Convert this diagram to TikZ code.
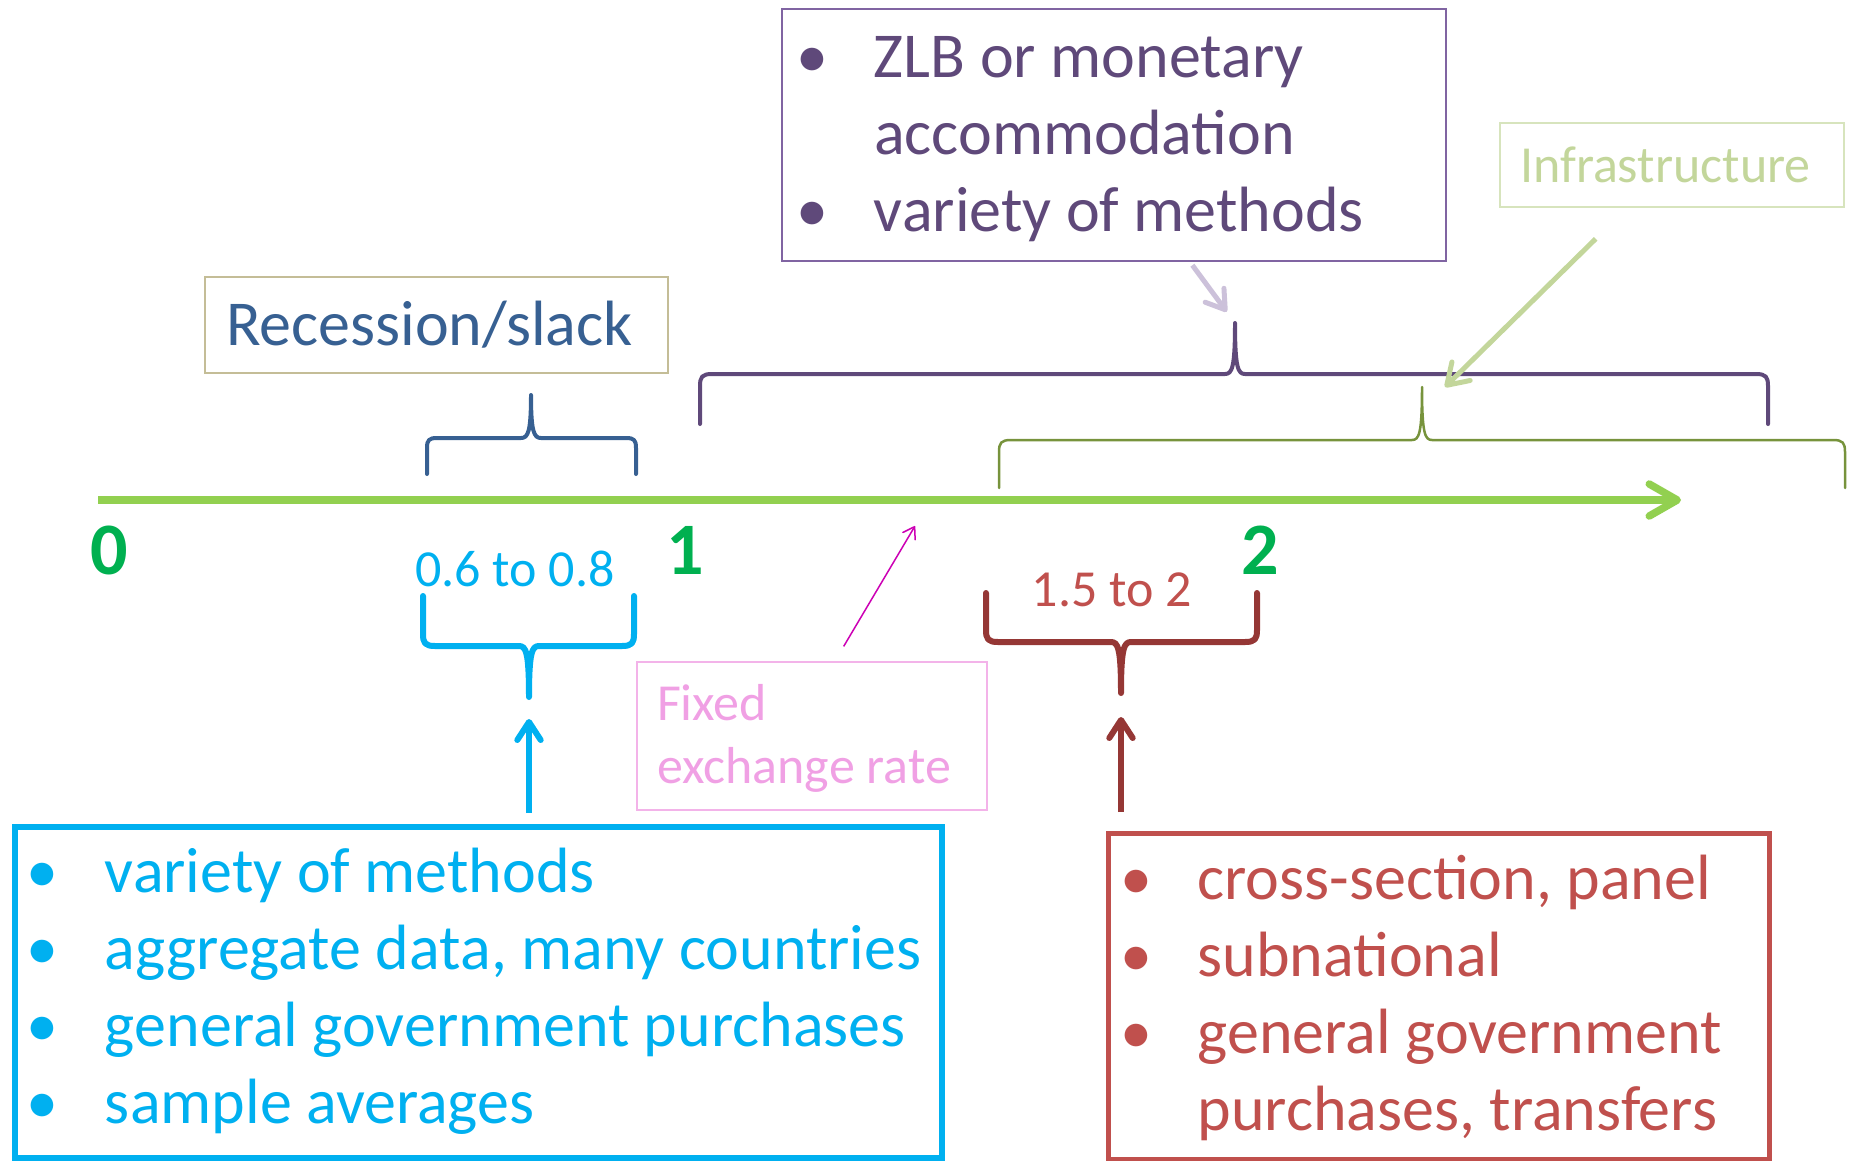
\documentclass[tikz,border=0pt]{standalone}
\usepackage{fontspec}
\setmainfont{Carlito}
\usetikzlibrary{arrows.meta,positioning}

\definecolor{axisgreen}{RGB}{146,208,80}
\definecolor{numgreen}{RGB}{0,176,80}
\definecolor{recblue}{RGB}{55,96,146}
\definecolor{recborder}{RGB}{196,189,151}
\definecolor{cyanc}{RGB}{0,176,240}
\definecolor{zlbtext}{RGB}{95,73,122}
\definecolor{zlbborder}{RGB}{128,100,162}
\definecolor{lilac}{RGB}{204,193,218}
\definecolor{infgreen}{RGB}{195,214,155}
\definecolor{infborder}{RGB}{215,228,189}
\definecolor{olive}{RGB}{119,147,60}
\definecolor{fixpink}{RGB}{240,160,228}
\definecolor{magentac}{RGB}{204,0,180}
\definecolor{redtext}{RGB}{192,80,77}
\definecolor{darkred}{RGB}{149,55,53}

\newcommand{\natspace}{\spaceskip=0pt\relax\xspaceskip=0pt\relax}

\begin{document}
\begin{tikzpicture}[x=1pt,y=-1pt,
  boxnode/.style={anchor=north west,inner ysep=0pt,align=left,execute at begin node=\natspace},
  listtext/.style={font=\fontsize{64}{77}\selectfont},
  numlab/.style={text=numgreen,inner sep=0pt,font=\fontsize{74}{80}\selectfont\bfseries},
  rnglab/.style={inner sep=0pt,font=\fontsize{52}{63}\selectfont},
  bracepath/.style={line join=round,line cap=round},
  barb/.style={-{Straight Barb[round,length=#1,width=1.3*#1]}}]
\useasboundingbox (0,0) rectangle (1858,1160);

%Straight Lines (axis)
\draw[draw=axisgreen,line width=7.5pt,-{Straight Barb[round,length=28pt,width=32pt]}] (98,500) -- (1681,500);

% Text Node
\node[numlab] (lab0) at (109,550) {0};
\node[numlab] (lab1) at (685,550) {1};
\node[numlab] (lab2) at (1260,550) {2};

% Boxes
\node[boxnode,draw=recborder,line width=2pt,text=recblue,font=\fontsize{64}{77}\selectfont,
  inner xsep=21pt,text width=421pt,minimum height=96pt] (recbox) at (204,276) {Recession/slack};
\node[boxnode,draw=zlbborder,line width=2pt,text=zlbtext,listtext,
  inner xsep=14pt,text width=636pt,minimum height=252pt] (zlbbox) at (781,8)
  {\raisebox{-4pt}[\height][\depth]{\begin{tabular}{@{}p{78pt}@{}l@{}}\textbullet & ZLB or monetary\\ & accommodation\\ \textbullet & variety of methods\end{tabular}}};
\node[boxnode,draw=infborder,line width=2pt,text=infgreen,font=\fontsize{52}{63}\selectfont,
  inner xsep=20pt,text width=304pt,minimum height=84pt] (infrabox) at (1499,122) {Infrastructure};
\node[boxnode,draw=fixpink!80,line width=2pt,text=fixpink,font=\fontsize{52}{63}\selectfont,
  inner xsep=20pt,text width=310pt,minimum height=148pt] (fixbox) at (636,661)
  {\raisebox{-3pt}[\height][\depth]{\begin{tabular}{@{}l@{}}Fixed\\exchange rate\end{tabular}}};
\node[boxnode,draw=cyanc,line width=6pt,text=cyanc,listtext,
  inner xsep=11pt,text width=905pt,minimum height=331pt] (aggbox) at (12,824)
  {\begin{tabular}{@{}p{79pt}@{}l@{}}\textbullet & variety of methods\\ \textbullet & aggregate data, many countries\\
  \textbullet & general government purchases\\ \textbullet & sample averages\end{tabular}};
\node[boxnode,draw=redtext,line width=5pt,text=redtext,listtext,
  inner xsep=12pt,text width=637pt,minimum height=326pt] (subbox) at (1106,831)
  {\raisebox{-3.5pt}[\height][\depth]{\begin{tabular}{@{}p{77pt}@{}l@{}}\textbullet & cross-section, panel\\ \textbullet & subnational\\
  \textbullet & general government\\ & purchases, transfers\end{tabular}}};

% Text Node
\node[rnglab,text=cyanc] (rnglow) at (515,569) {0.6 to 0.8};
\node[rnglab,text=redtext] (rnghigh) at (1112,590) {1.5 to 2};

%Curly Brace (recession)
\draw[bracepath,draw=recblue,line width=4pt] (427,474) -- (427,448) .. controls (427,440) and (429,438) .. (437,438) -- (521,438) .. controls (528,438) and (531,432) .. (531,395) .. controls (531,432) and (534,438) .. (541,438) -- (626,438) .. controls (634,438) and (636,440) .. (636,448) -- (636,474);
%Curly Brace (zlb)
\draw[bracepath,draw=zlbtext,line width=4pt] (700,424) -- (700,386) .. controls (700,377) and (702,374) .. (712,374) -- (1225,374) .. controls (1232,374) and (1235,368) .. (1235,323) .. controls (1235,368) and (1238,374) .. (1245,374) -- (1756,374) .. controls (1766,374) and (1768,377) .. (1768,386) -- (1768,424);
\coordinate (pptip) at (1235,323);
%Curly Brace (infrastructure)
\draw[bracepath,draw=olive,line width=2.5pt] (999,488) -- (999,452) .. controls (999,443) and (1001,440) .. (1011,440) -- (1412,440) .. controls (1419,440) and (1422,434) .. (1422,387) .. controls (1422,434) and (1425,440) .. (1432,440) -- (1833,440) .. controls (1843,440) and (1845,443) .. (1845,452) -- (1845,488);
%Curly Brace (low range)
\draw[bracepath,draw=cyanc,line width=6pt] (423,596) -- (423,634) .. controls (423,643) and (425,646) .. (435,646) -- (519,646) .. controls (526,646) and (529,652) .. (529,697) .. controls (529,652) and (532,646) .. (539,646) -- (622,646) .. controls (632,646) and (634,643) .. (634,634) -- (634,596);
\coordinate (cytip) at (529,697);
%Curly Brace (high range)
\draw[bracepath,draw=darkred,line width=6pt] (986,593) -- (986,630) .. controls (986,639) and (988,642) .. (998,642) -- (1111,642) .. controls (1118,642) and (1121,648) .. (1121,693) .. controls (1121,648) and (1124,642) .. (1131,642) -- (1245,642) .. controls (1255,642) and (1257,639) .. (1257,630) -- (1257,593);
\coordinate (rdtip) at (1121,693);

\coordinate (fixend) at (915,526);
\coordinate (infend) at (1445,387);

%Straight Lines (pointers)
\draw[draw=cyanc,line width=6pt,barb=18pt,shorten <=11pt,shorten >=22pt] (aggbox.north -| cytip) -- (cytip);
\draw[draw=darkred,line width=6pt,barb=18pt,shorten <=19pt,shorten >=24pt] (subbox.north -| rdtip) -- (rdtip);
\draw[draw=magentac,line width=1.5pt,barb=11pt,shorten <=17pt] ([xshift=23pt]fixbox.north) -- (fixend);
\draw[draw=lilac,line width=5pt,barb=18pt,shorten <=4pt,shorten >=14pt] ([xshift=76pt]zlbbox.south) -- (pptip);
\draw[draw=infgreen,line width=5pt,barb=20pt,shorten <=44pt] ([xshift=-45pt]infrabox.south) -- (infend);

\end{tikzpicture}
\end{document}
